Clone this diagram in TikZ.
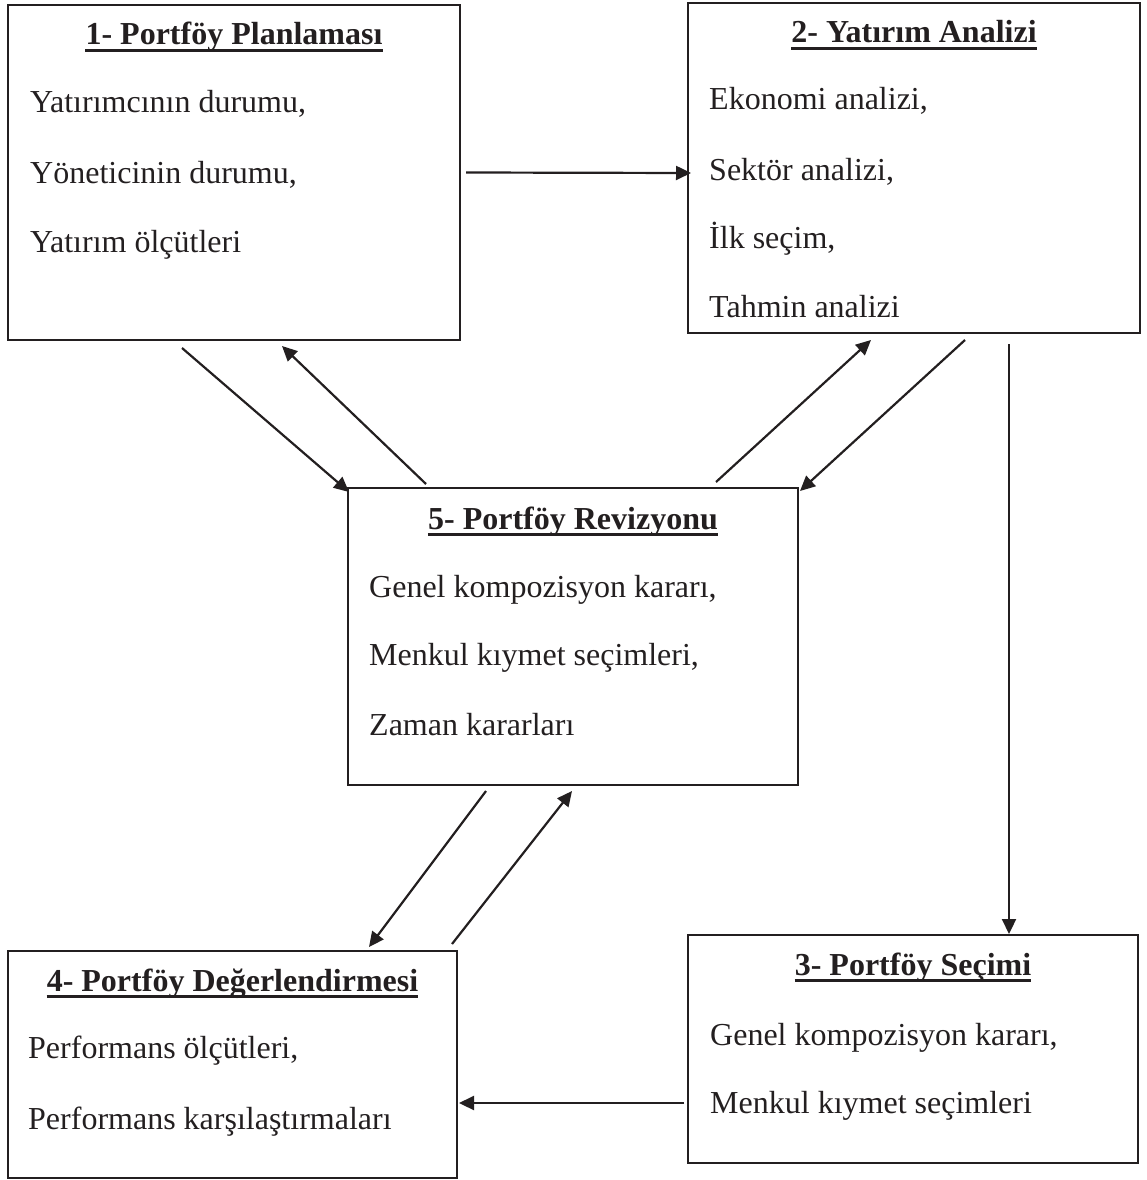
\documentclass[tikz,border=0pt]{standalone}
\usepackage{fontspec}
\setmainfont{Liberation Serif}
\usetikzlibrary{arrows.meta}
\definecolor{ink}{HTML}{231F20}
\tikzset{
  boxst/.style={draw=ink, line width=2pt, rectangle, inner sep=0pt},
  ttl/.style={font=\fontsize{32}{38}\selectfont\bfseries, text=ink, inner sep=0pt},
  body/.style={font=\fontsize{32}{38}\selectfont, text=ink, inner sep=0pt, anchor=base west},
  uline/.style={draw=ink, line width=2.6pt},
  arr/.style={draw=ink, line width=2.2pt, -{Triangle[length=15pt,width=14pt]}}
}
\newcommand{\ulinetitle}[1]{\draw[uline] ([yshift=-5.5pt]#1.base west) -- ([yshift=-5.5pt]#1.base east);}
\begin{document}
\begin{tikzpicture}[x=1pt,y=-1pt]
\useasboundingbox (0,0) rectangle (1147,1180);
% boxes
\node[boxst, minimum width=452pt, minimum height=335pt] (n1) at (234,172.5) {};
\node[boxst, minimum width=452pt, minimum height=330pt] (n2) at (914,168) {};
\node[boxst, minimum width=450pt, minimum height=297pt] (n5) at (573,636.5) {};
\node[boxst, minimum width=449pt, minimum height=227pt] (n4) at (232.5,1064.5) {};
\node[boxst, minimum width=450pt, minimum height=228pt] (n3) at (913,1049) {};
% box 1
\node[ttl, anchor=base] (t1) at (234,45) {1- Portföy Planlaması};
\ulinetitle{t1}
\node[body] (b1a) at (30,113) {Yatırımcının durumu,};
\node[body] (b1b) at (30,183) {Yöneticinin durumu,};
\node[body] (b1c) at (30,252) {Yatırım ölçütleri};
% box 2
\node[ttl, anchor=base] (t2) at (914,43) {2- Yatırım Analizi};
\ulinetitle{t2}
\node[body] (b2a) at (709,110) {Ekonomi analizi,};
\node[body] (b2b) at (709,180) {Sektör analizi,};
\node[body] (b2c) at (709,248) {İlk seçim,};
\node[body] (b2d) at (709,317) {Tahmin analizi};
% box 5
\node[ttl, anchor=base] (t5) at (573,529) {5- Portföy Revizyonu};
\ulinetitle{t5}
\node[body] (b5a) at (369,597) {Genel kompozisyon kararı,};
\node[body] (b5b) at (369,665) {Menkul kıymet seçimleri,};
\node[body] (b5c) at (369,735) {Zaman kararları};
% box 4
\node[ttl, anchor=base] (t4) at (232.5,991) {4- Portföy Değerlendirmesi};
\ulinetitle{t4}
\node[body] (b4a) at (28,1058) {Performans ölçütleri,};
\node[body] (b4b) at (28,1129) {Performans karşılaştırmaları};
% box 3
\node[ttl, anchor=base] (t3) at (913,975) {3- Portföy Seçimi};
\ulinetitle{t3}
\node[body] (b3a) at (710,1045) {Genel kompozisyon kararı,};
\node[body] (b3b) at (710,1113) {Menkul kıymet seçimleri};
% connectors
\draw[arr] ([shift={(5,0)}]n1.east) -- ([shift={(4,5)}]n2.west);
\draw[arr] ([shift={(175,7)}]n1.south west) -- ([shift={(2,5)}]n5.north west);
\draw[arr] ([shift={(79,-3)}]n5.north west) -- ([shift={(275,5)}]n1.south west);
\draw[arr] ([shift={(-83,-5)}]n5.north east) -- ([shift={(184,6)}]n2.south west);
\draw[arr] ([shift={(278,6)}]n2.south west) -- ([shift={(1,4)}]n5.north east);
\draw[arr] ([shift={(322,10)}]n2.south west) -- ([shift={(322,0)}]n3.north west);
\draw[arr] ([shift={(139,5)}]n5.south west) -- ([shift={(362,-3)}]n4.north west);
\draw[arr] ([shift={(445,-6)}]n4.north west) -- ([shift={(225,5)}]n5.south west);
\draw[arr] ([shift={(-3,54)}]n3.west) -- ([shift={(1,38.5)}]n4.east);
\end{tikzpicture}
\end{document}
